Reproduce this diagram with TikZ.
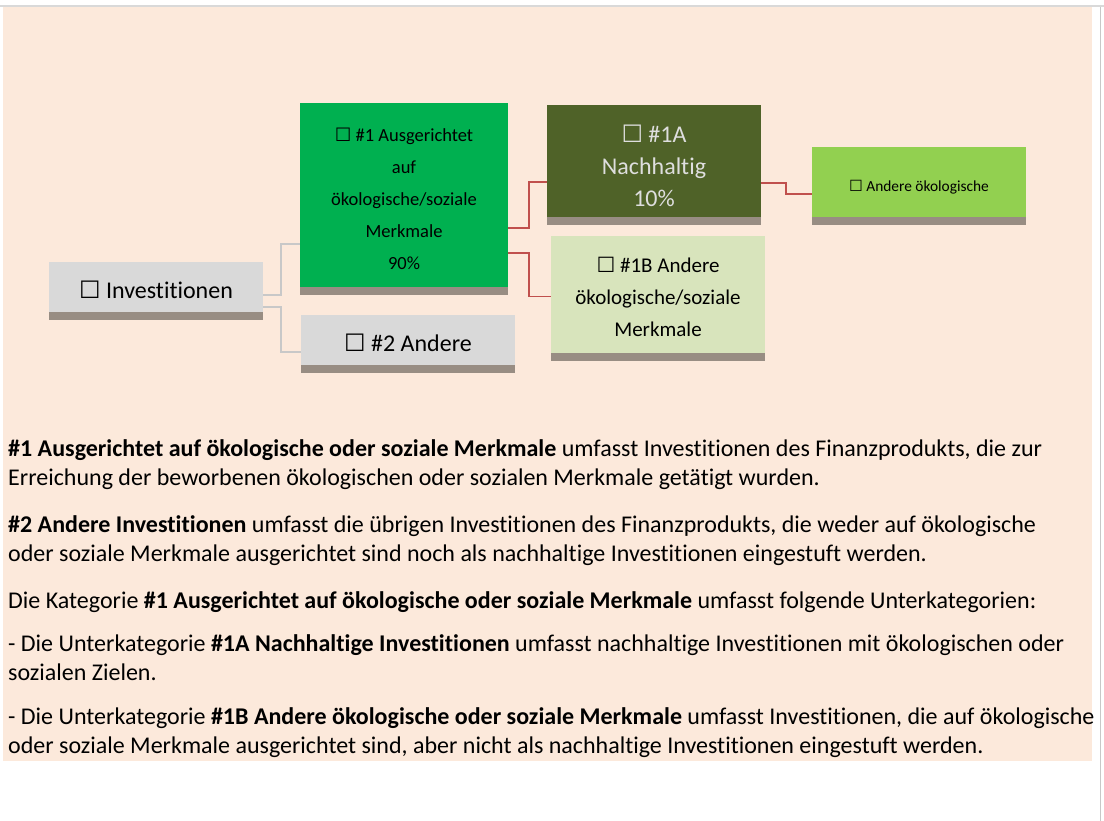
\documentclass[tikz,border=0pt]{standalone}
\usepackage{fontspec}
\setmainfont{Carlito}[Ligatures=NoCommon]
\newfontfamily\symfont{DejaVu Sans}
\usepackage{xcolor}
\usetikzlibrary{arrows.meta, positioning, calc}
\definecolor{peach}{RGB}{252,233,219}
\definecolor{boxgray}{RGB}{217,217,217}
\definecolor{shade}{RGB}{152,141,131}
\definecolor{green1}{RGB}{0,176,80}
\definecolor{olive1}{RGB}{79,98,40}
\definecolor{green2}{RGB}{146,208,80}
\definecolor{green3}{RGB}{216,228,188}
\definecolor{paletext}{RGB}{222,222,222}
\definecolor{linegray}{RGB}{200,200,200}
\definecolor{linered}{RGB}{192,80,77}
\newcommand{\chkbox}{{\symfont ☐}~}

\begin{document}
\begin{tikzpicture}[x=1pt, y=-1pt,
    every node/.style={inner sep=0pt, align=center},
    box/.style={minimum width=214pt, minimum height=50pt, fill=boxgray},
    big/.style={font=\fontsize{24}{32}\selectfont},
    bar/.style={fill=shade},
    gline/.style={draw=linegray, line width=1.8pt},
    rline/.style={draw=linered, line width=1.5pt},
    para/.style={anchor=base west, align=left, font=\fontsize{24}{28.5}\selectfont}]
    \useasboundingbox (0,0) rectangle (1104,821);
    \fill[white] (0,0) rectangle (1104,821);
    \fill[peach] (3,7) rectangle (1092,761);
    \draw[boxgray, line width=2pt] (0,6) -- (1104,6);
    \draw[linegray, line width=1pt] (1100,7) -- (1100,821);

    \node[box] (inv) at (156,287) {};
    \node[box, minimum width=208pt, minimum height=184pt, fill=green1] (ausg) at (404,195) {};
    \node[box] (ander) at (408,340) {};
    \node[box, minimum height=112pt, fill=olive1] (nach) at (654,161) {};
    \node[box, minimum height=70pt, fill=green2] (oeko) at (919,182) {};
    \node[box, minimum height=117pt, fill=green3] (andm) at (658,294.5) {};

    \node[big] (inv-l) at ([yshift=-3pt]inv.center) {\chkbox Investitionen};
    \node[font=\fontsize{18.5}{32}\selectfont] (ausg-l) at ([yshift=-4pt]ausg.center)
        {\chkbox\#1 Ausgerichtet\\auf\\ökologische/soziale\\Merkmale\\90\%};
    \node[big] (ander-l) at ([yshift=-3pt]ander.center) {\chkbox\#2 Andere};
    \node[big, text=paletext] (nach-l) at ([yshift=-4.5pt]nach.center) {\chkbox\#1A\\Nachhaltig\\10\%};
    \node[font=\fontsize{15.4}{20}\selectfont] (oeko-l) at ([yshift=-5pt]oeko.center) {\chkbox Andere ökologische};
    \node[font=\fontsize{21}{32}\selectfont] (andm-l) at ([yshift=-2pt]andm.center)
        {\chkbox\#1B Andere\\ökologische/soziale\\Merkmale};

    \foreach \n in {inv, ausg, ander, nach, oeko, andm}
        \fill[bar] (\n.south west) rectangle ([yshift=-8pt]\n.south east);

    \draw[gline] ([yshift=-8pt]inv.east) -- ++(18,0) |- ([yshift=-49pt]ausg.west);
    \draw[gline] ([yshift=-20pt]inv.east) -- ++(18,0) |- ([yshift=-12pt]ander.west);
    \draw[rline] ([yshift=-33pt]ausg.east) -- ++(21,0) |- ([yshift=-21pt]nach.west);
    \draw[rline] ([yshift=-58pt]ausg.east) -- ++(21,0) |- ([yshift=-2pt]andm.west);
    \draw[rline] ([yshift=-22pt]nach.east) -- ++(25,0) |- ([yshift=-12pt]oeko.west);

    \node[para] (p1) at (8,485) {\textbf{\#1 Ausgerichtet auf ökologische oder soziale Merkmale} umfasst Investitionen des Finanzprodukts, die zur\\Erreichung der beworbenen ökologischen oder sozialen Merkmale getätigt wurden.};
    \node[para] (p2) at (8,561) {\textbf{\#2 Andere Investitionen} umfasst die übrigen Investitionen des Finanzprodukts, die weder auf ökologische\\oder soziale Merkmale ausgerichtet sind noch als nachhaltige Investitionen eingestuft werden.};
    \node[para] (p3) at (8,608) {Die Kategorie \textbf{\#1 Ausgerichtet auf ökologische oder soziale Merkmale} umfasst folgende Unterkategorien:};
    \node[para] (p4) at (8,680) {- Die Unterkategorie \textbf{\#1A Nachhaltige Investitionen} umfasst nachhaltige Investitionen mit ökologischen oder\\sozialen Zielen.};
    \node[para] (p5) at (8,753) {- Die Unterkategorie \textbf{\#1B Andere ökologische oder soziale Merkmale} umfasst Investitionen, die auf ökologische\\oder soziale Merkmale ausgerichtet sind, aber nicht als nachhaltige Investitionen eingestuft werden.};
\end{tikzpicture}
\end{document}
